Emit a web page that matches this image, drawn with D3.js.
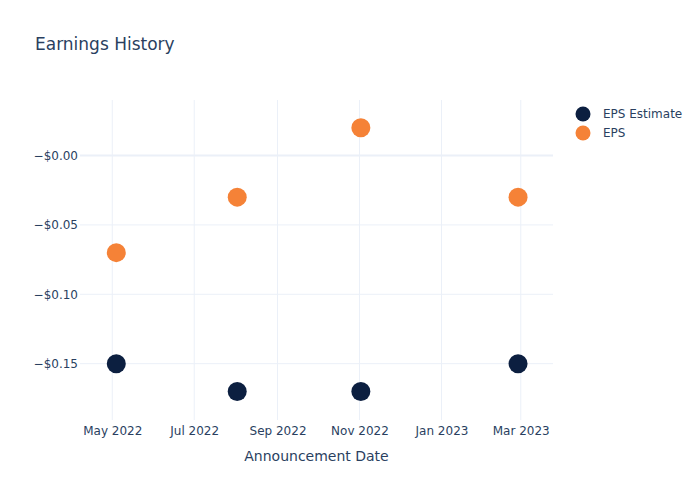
<!DOCTYPE html>
<html><head><meta charset="utf-8">
<script src="https://cdn.jsdelivr.net/npm/d3@7"></script>
<style>body{margin:0;background:#fff}svg{display:block;font-family:"DejaVu Sans",sans-serif}</style>
</head><body><div id="chart"></div>
<script>
const dates = ["2022-05-04", "2022-08-02", "2022-11-02", "2023-02-27"];
const epsEstimate = [-0.15, -0.17, -0.17, -0.15];
const eps = [-0.07, -0.03, 0.02, -0.03];
const seriesNames = ["EPS Estimate", "EPS"];
const seriesColors = ["#0c1f40", "#f58237"];
const yTickValues = [0, -0.05, -0.10, -0.15];
const yTickLabels = ["\u2212$0.00", "\u2212$0.05", "\u2212$0.10", "\u2212$0.15"];
const xTickDates = ["2022-05-01", "2022-07-01", "2022-09-01", "2022-11-01", "2023-01-01", "2023-03-01"];
const xTickLabels = ["May 2022", "Jul 2022", "Sep 2022", "Nov 2022", "Jan 2023", "Mar 2023"];

const W = 700, H = 500;
const m = {l: 80, r: 147, t: 100, b: 80};
const FONT = '"DejaVu Sans",sans-serif';
const parse = d3.utcParse("%Y-%m-%d");
const svg = d3.select("#chart").append("svg").attr("width", W).attr("height", H);

const x = d3.scaleUtc()
  .domain([parse("2022-04-07"), parse("2023-03-25")])
  .range([m.l, W - m.r]);
const y = d3.scaleLinear().domain([-0.1906, 0.04]).range([H - m.b, m.t]);

const grid = "#ebf0f8", txt = "#2a3f5f";

svg.append("g").selectAll("line").data(xTickDates).join("line")
  .attr("x1", d => x(parse(d))).attr("x2", d => x(parse(d)))
  .attr("y1", m.t).attr("y2", H - m.b)
  .attr("stroke", grid).attr("stroke-width", 1);
svg.append("g").selectAll("line").data(yTickValues).join("line")
  .attr("x1", m.l).attr("x2", W - m.r)
  .attr("y1", d => y(d)).attr("y2", d => y(d))
  .attr("stroke", grid).attr("stroke-width", d => d === 0 ? 2 : 1);

const yAxis = d3.axisLeft(y).tickValues(yTickValues)
  .tickFormat((d, i) => yTickLabels[i]).tickSize(0).tickPadding(2);
const gy = svg.append("g").attr("transform", `translate(${m.l},0)`).call(yAxis);
gy.select(".domain").remove();
gy.selectAll("text").attr("fill", txt).attr("font-size", 12).attr("font-family", FONT);

const xAxis = d3.axisBottom(x).tickValues(xTickDates.map(parse))
  .tickFormat((d, i) => xTickLabels[i]).tickSize(0).tickPadding(6);
const gx = svg.append("g").attr("transform", `translate(0,${H - m.b})`).call(xAxis);
gx.select(".domain").remove();
gx.selectAll("text").attr("fill", txt).attr("font-size", 12).attr("font-family", FONT);

svg.append("text").attr("x", (m.l + W - m.r) / 2).attr("y", 461)
  .attr("text-anchor", "middle").attr("fill", txt).attr("font-size", 14)
  .text("Announcement Date");

svg.append("text").attr("x", 35).attr("y", 50).attr("fill", txt)
  .attr("font-size", 17).text("Earnings History");

const series = [epsEstimate, eps];
series.forEach((vals, si) => {
  svg.append("g").selectAll("circle").data(vals).join("circle")
    .attr("cx", (d, i) => x(parse(dates[i])))
    .attr("cy", d => y(d))
    .attr("r", 9.5)
    .attr("fill", seriesColors[si]);
});

const lg = svg.append("g");
seriesNames.forEach((n, i) => {
  const yy = 114 + i * 19;
  lg.append("circle").attr("cx", 583).attr("cy", yy).attr("r", 7.5).attr("fill", seriesColors[i]);
  lg.append("text").attr("x", 603).attr("y", yy + 4).attr("fill", txt)
    .attr("font-size", 12).text(n);
});
</script></body></html>
